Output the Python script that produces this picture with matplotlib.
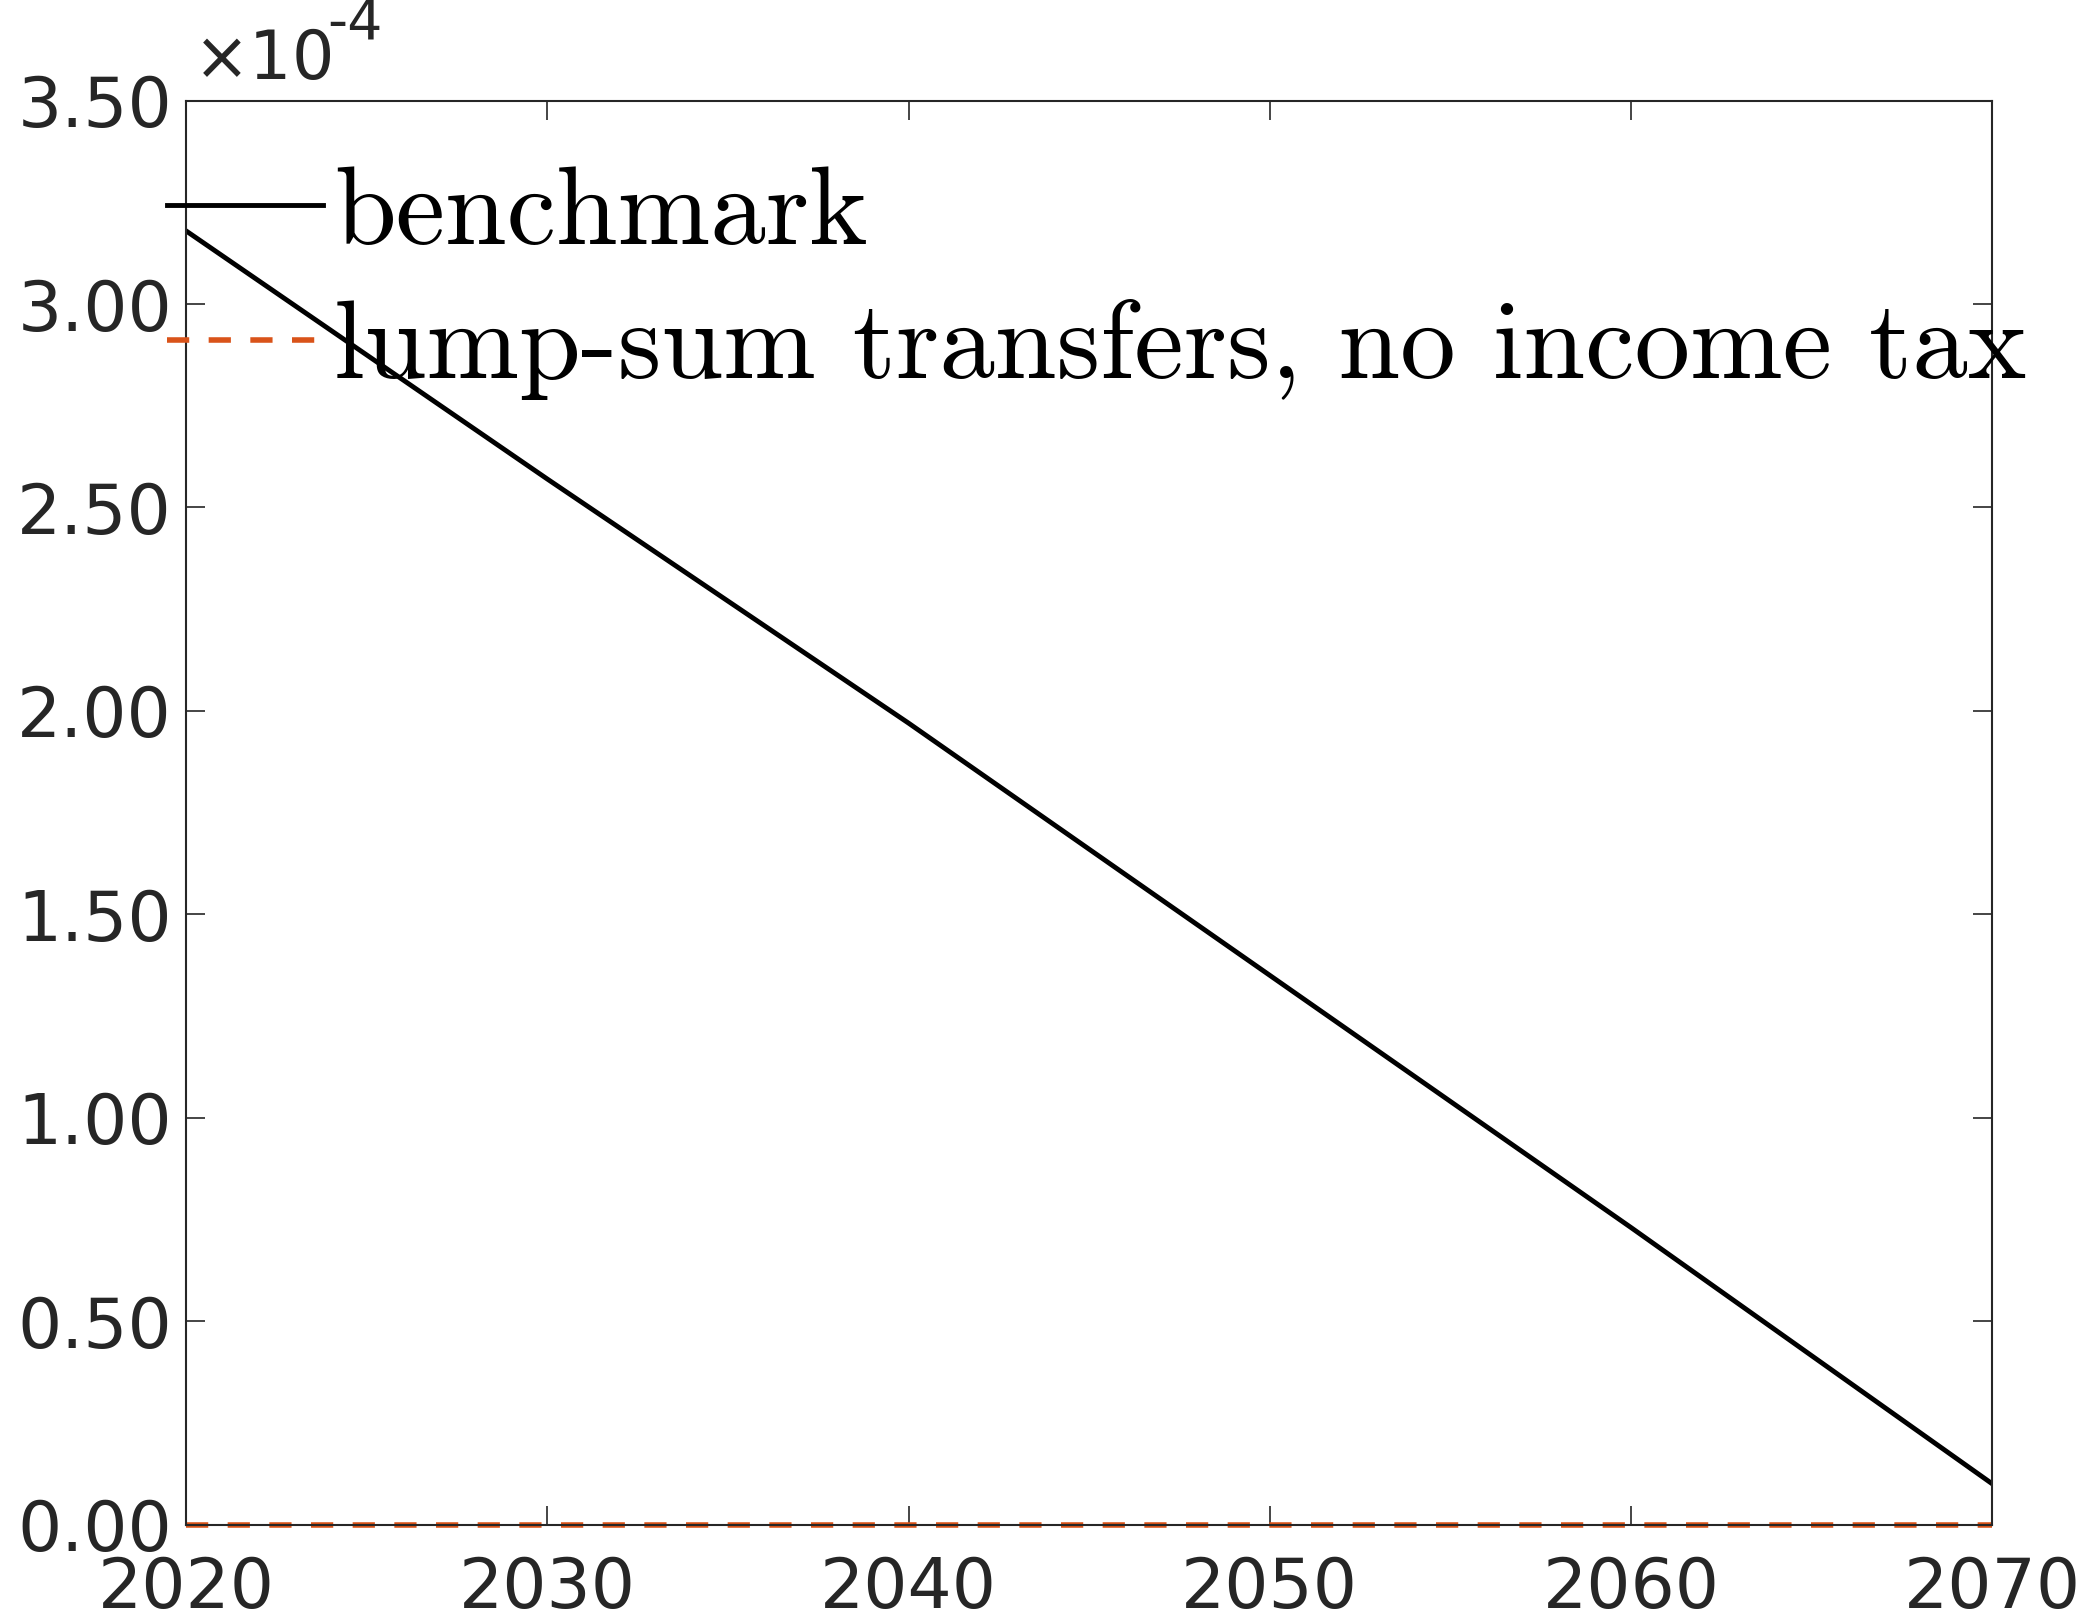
import numpy as np
import matplotlib
matplotlib.use("Agg")
import matplotlib.pyplot as plt
from matplotlib.ticker import FormatStrFormatter

years = [2020, 2030, 2040, 2050, 2060, 2070]
benchmark = [3.18, 2.57, 1.97, 1.35, 0.73, 0.10]   # x 1e-4
lump_sum = [0.0, 0.0, 0.0, 0.0, 0.0, 0.0]

fig = plt.figure(figsize=(20.82, 16.22), dpi=100)
ax = fig.add_axes([0.0893, 0.060, 0.957 - 0.0893, 0.938 - 0.060])

ax.plot(years, benchmark, "-", color="black", lw=3.5, label="benchmark")
ax.plot(years, lump_sum, "--", color="#D95319", lw=4, dashes=(4, 3.5),
        clip_on=False, label="lump-sum transfers, no income tax")

ax.set_xlim(2020, 2070)
ax.set_ylim(0, 3.5)
ax.set_xticks(years)
ax.set_yticks(np.arange(0, 3.51, 0.5))
ax.yaxis.set_major_formatter(FormatStrFormatter("%.2f"))
ax.tick_params(direction="in", top=True, right=True, length=14, width=1.2,
               labelsize=50, labelcolor="#262626", color="#262626")
ax.tick_params(axis="x", pad=22)
ax.tick_params(axis="y", pad=10)
for s in ax.spines.values():
    s.set_color("#262626")
    s.set_linewidth(1.5)

ax.text(0.004, 1.005, r"$\times$10", transform=ax.transAxes,
        fontsize=48, color="#262626", ha="left", va="bottom")
ax.text(0.078, 1.035, "-4", transform=ax.transAxes,
        fontsize=40, color="#262626", ha="left", va="bottom")

leg = ax.legend(loc="upper left", bbox_to_anchor=(-0.035, 0.985), frameon=False,
                prop={"family": "cmr10", "size": 80}, handlelength=1.4,
                handletextpad=0.1, labelspacing=0.3, borderaxespad=0)

fig.savefig("out.png", dpi=100)
